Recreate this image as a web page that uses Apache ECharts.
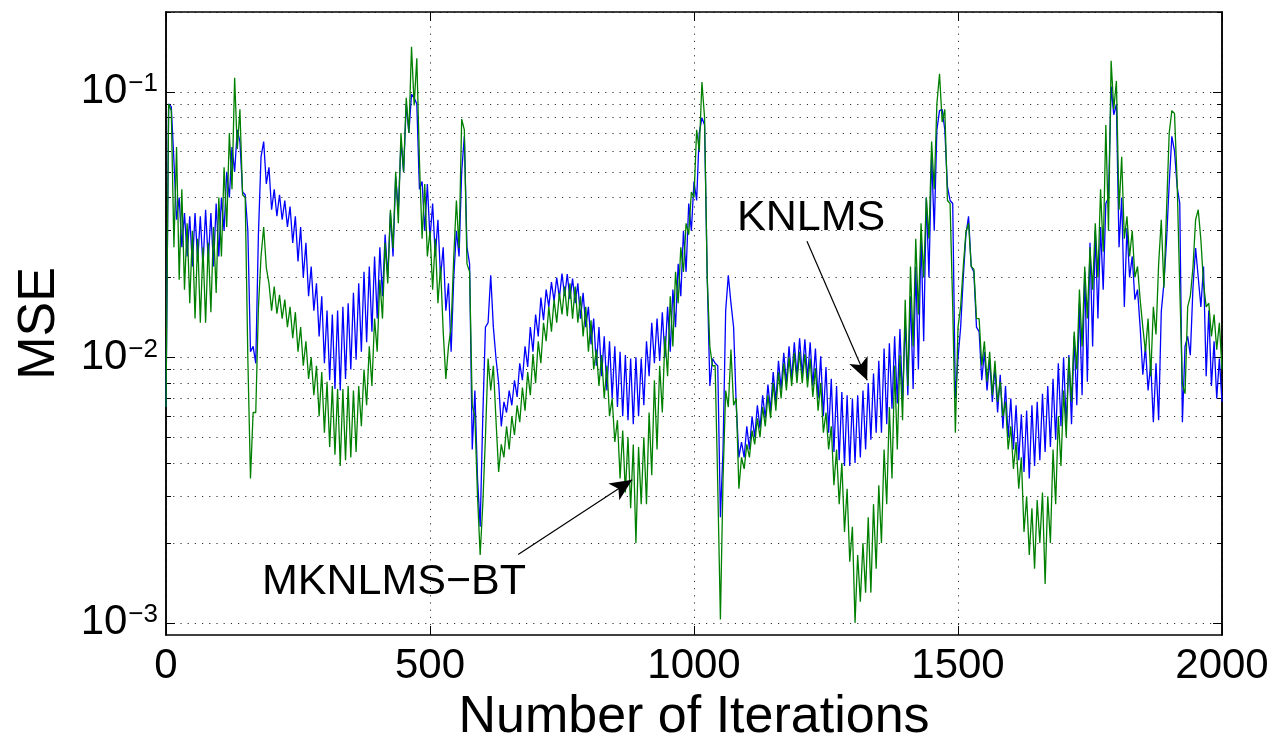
<!DOCTYPE html>
<html><head><meta charset="utf-8">
<script src="https://cdn.jsdelivr.net/npm/echarts@6/dist/echarts.min.js"></script>
<style>html,body{margin:0;padding:0;background:#fff}#c{width:1274px;height:736px}</style>
</head><body><div id="c"></div>
<script>
// one sample every STEP iterations
const STEP = 5;
const knlms = [
0.0065,0.09,0.088,0.055,0.033,0.04,0.026,0.035,0.024,0.034,
0.022,0.035,0.023,0.034,0.022,0.036,0.023,0.035,0.022,0.038,
0.024,0.04,0.03,0.05,0.04,0.062,0.05,0.072,0.065,0.042,
0.041,0.03,0.0105,0.011,0.0095,0.029,0.057,0.065,0.045,0.052,
0.036,0.043,0.034,0.041,0.033,0.039,0.031,0.037,0.027,0.034,
0.023,0.031,0.02,0.027,0.017,0.022,0.015,0.019,0.012,0.017,
0.0095,0.015,0.0082,0.0145,0.0076,0.015,0.0075,0.0155,0.0083,0.016,
0.009,0.0175,0.0098,0.019,0.0105,0.021,0.0114,0.022,0.0125,0.024,
0.014,0.026,0.017,0.029,0.02,0.035,0.024,0.048,0.036,0.065,
0.05,0.09,0.07,0.098,0.095,0.09,0.043,0.046,0.03,0.045,
0.028,0.038,0.024,0.033,0.02,0.026,0.015,0.019,0.0105,0.02,
0.03,0.024,0.05,0.068,0.026,0.0225,0.0045,0.0075,0.0035,0.0023,
0.006,0.013,0.0135,0.0204,0.013,0.0099,0.008,0.0055,0.0068,0.0062,
0.0075,0.0066,0.0082,0.0071,0.0095,0.0082,0.011,0.0092,0.013,0.0105,
0.0145,0.012,0.0168,0.0138,0.018,0.0155,0.0192,0.0163,0.02,0.0168,
0.0207,0.017,0.0206,0.0166,0.0198,0.016,0.019,0.014,0.0175,0.013,
0.0155,0.0112,0.014,0.0093,0.013,0.0085,0.012,0.0075,0.0115,0.007,
0.011,0.0065,0.0105,0.006,0.0102,0.0058,0.0099,0.0056,0.01,0.006,
0.0099,0.0066,0.0115,0.0085,0.0135,0.0095,0.014,0.0097,0.0148,0.01,
0.0155,0.0105,0.018,0.013,0.0225,0.017,0.03,0.021,0.038,0.03,
0.046,0.039,0.07,0.08,0.075,0.0204,0.0078,0.0099,0.0095,0.0093,
0.0025,0.0045,0.015,0.0204,0.016,0.013,0.0066,0.0042,0.0048,0.0042,
0.0055,0.0045,0.006,0.005,0.0066,0.0054,0.0072,0.0059,0.0079,0.0063,
0.0088,0.0068,0.0097,0.0076,0.0104,0.008,0.011,0.0083,0.0114,0.0085,
0.0118,0.0086,0.0117,0.0083,0.0114,0.0078,0.0108,0.007,0.0101,0.006,
0.0092,0.0052,0.0083,0.0044,0.0078,0.0041,0.0074,0.0039,0.0072,0.0039,
0.007,0.004,0.0072,0.0042,0.0075,0.0045,0.008,0.0049,0.0087,0.0052,
0.0097,0.0052,0.0108,0.0056,0.0113,0.0064,0.012,0.0067,0.0128,0.0069,
0.0138,0.0072,0.017,0.0076,0.022,0.009,0.029,0.0115,0.04,0.02,
0.058,0.03,0.072,0.085,0.086,0.072,0.044,0.039,0.038,0.007,
0.0099,0.013,0.02,0.029,0.034,0.022,0.021,0.013,0.0125,0.0082,
0.0105,0.0075,0.0098,0.0068,0.0092,0.0062,0.0086,0.0054,0.0078,0.005,
0.007,0.0045,0.0066,0.0041,0.0061,0.0037,0.0063,0.0035,0.0066,0.0039,
0.0068,0.0041,0.0073,0.0044,0.0078,0.0046,0.0083,0.0049,0.0095,0.0055,
0.01,0.0055,0.0102,0.0056,0.012,0.0066,0.016,0.0072,0.021,0.0081,
0.027,0.011,0.03,0.014,0.031,0.018,0.038,0.04,0.105,0.082,
0.09,0.026,0.04,0.0155,0.0307,0.02,0.024,0.0165,0.018,0.013,
0.0086,0.011,0.0075,0.0095,0.0057,0.0095,0.0058,0.0149,0.019,0.0277,
0.045,0.068,0.06,0.044,0.038,0.0057,0.011,0.012,0.0102,0.0183,
0.0258,0.02,0.0155,0.022,0.0085,0.015,0.0078,0.0115,0.007,0.0099,
0.0068
];
const mknlmsBT = [
0.0065,0.09,0.085,0.026,0.062,0.0196,0.043,0.018,0.032,0.016,
0.03,0.014,0.028,0.0135,0.026,0.0135,0.027,0.0148,0.031,0.0175,
0.04,0.024,0.052,0.031,0.07,0.043,0.113,0.061,0.086,0.041,
0.04,0.0099,0.0035,0.0062,0.0062,0.0154,0.024,0.031,0.0218,0.019,
0.015,0.0185,0.0146,0.0172,0.014,0.0165,0.013,0.0155,0.0118,0.0148,
0.0105,0.013,0.0093,0.0115,0.0083,0.01,0.0072,0.0093,0.006,0.0088,
0.0052,0.0081,0.0046,0.0078,0.0043,0.0076,0.0039,0.0076,0.0041,0.0078,
0.0042,0.0075,0.0044,0.0078,0.0055,0.009,0.0066,0.011,0.0078,0.014,
0.0105,0.0196,0.014,0.027,0.019,0.036,0.0258,0.05,0.032,0.07,
0.05,0.095,0.07,0.148,0.089,0.134,0.055,0.028,0.045,0.024,
0.03,0.018,0.028,0.016,0.022,0.0125,0.0083,0.011,0.013,0.024,
0.039,0.0258,0.079,0.072,0.0225,0.021,0.0066,0.006,0.003,0.0018,
0.0028,0.005,0.0099,0.0075,0.0093,0.0058,0.0037,0.0047,0.0042,0.0055,
0.0045,0.006,0.0051,0.0066,0.0057,0.0077,0.0063,0.0088,0.0072,0.0103,
0.008,0.0115,0.0095,0.0135,0.0115,0.0155,0.0125,0.0165,0.0135,0.0175,
0.0145,0.0185,0.0143,0.019,0.014,0.0185,0.0135,0.017,0.012,0.0155,
0.0105,0.0138,0.009,0.0107,0.0078,0.0102,0.007,0.0093,0.006,0.007,
0.0048,0.0058,0.0035,0.0053,0.0031,0.005,0.0027,0.0047,0.002,0.0046,
0.0028,0.005,0.0028,0.0062,0.0036,0.0082,0.0045,0.0093,0.0062,0.012,
0.0085,0.017,0.011,0.021,0.016,0.026,0.021,0.032,0.029,0.042,
0.04,0.072,0.06,0.109,0.08,0.02,0.011,0.0093,0.0093,0.0033,
0.00103,0.0035,0.0075,0.0065,0.0107,0.0066,0.007,0.0032,0.0042,0.0038,
0.0047,0.0042,0.0053,0.0047,0.0059,0.005,0.0065,0.0055,0.0072,0.0059,
0.008,0.0063,0.0088,0.007,0.0095,0.0075,0.01,0.0078,0.0104,0.008,
0.0105,0.008,0.0103,0.0077,0.0099,0.0071,0.0091,0.0063,0.008,0.0052,
0.0062,0.0045,0.0055,0.0033,0.0045,0.0028,0.004,0.0022,0.0032,0.0017,
0.0023,0.001,0.0018,0.0012,0.002,0.0013,0.0025,0.0013,0.0028,0.0016,
0.0033,0.002,0.0045,0.0028,0.0065,0.0035,0.0093,0.0045,0.0102,0.0058,
0.0165,0.0078,0.022,0.011,0.028,0.0145,0.032,0.02,0.04,0.028,
0.065,0.043,0.09,0.117,0.077,0.086,0.039,0.038,0.0155,0.0052,
0.013,0.0155,0.022,0.0296,0.032,0.022,0.0215,0.014,0.014,0.0093,
0.0115,0.0081,0.0105,0.0072,0.0097,0.0068,0.0081,0.006,0.0068,0.0045,
0.0055,0.0038,0.0048,0.0032,0.0042,0.0022,0.003,0.0018,0.0027,0.0016,
0.0029,0.002,0.0031,0.0014,0.003,0.002,0.0045,0.0028,0.006,0.0039,
0.0075,0.005,0.01,0.0068,0.0125,0.009,0.018,0.011,0.022,0.014,
0.026,0.018,0.032,0.02,0.043,0.025,0.075,0.03,0.131,0.086,
0.11,0.036,0.057,0.028,0.034,0.024,0.03,0.02,0.022,0.0165,
0.013,0.0105,0.014,0.0085,0.0155,0.0122,0.0225,0.033,0.0183,0.036,
0.07,0.085,0.083,0.046,0.0183,0.0079,0.0073,0.0155,0.017,0.0218,
0.033,0.036,0.0277,0.019,0.0155,0.016,0.012,0.0145,0.0107,0.0135,
0.009
];
const xTickValues = [0, 500, 1000, 1500, 2000];
const yMajorTicks = [0.001, 0.01, 0.1];
const yAllTicks = [0.001,0.002,0.003,0.004,0.005,0.006,0.007,0.008,0.009,
                   0.01,0.02,0.03,0.04,0.05,0.06,0.07,0.08,0.09,0.1,0.2];
const annotations = [
  {text: 'KNLMS', from: [1214, 0.0274], to: [1328, 0.0082]},
  {text: 'MKNLMS\u2212BT', from: [667, 0.00181], to: [883, 0.00346]}
];

const FONT = '"Liberation Sans", Arial, Helvetica, sans-serif';
const toPairs = arr => arr.map((v, i) => [i * STEP, v]);

function yAxisDef(position, ticks, tickLen, withLabels, withSplit) {
  return {
    type: 'log', logBase: 10, min: 0.0009, max: 0.2, position: position,
    axisLine: {show: true, lineStyle: {color: '#000', width: 1.5}},
    axisTick: {show: true, inside: true, length: tickLen, customValues: ticks,
               lineStyle: {color: '#000', width: 1}},
    axisLabel: withLabels ? {
      show: true, customValues: yMajorTicks, margin: 8,
      lineHeight: 54,
      formatter: v => '{b|10}{s|\u2212' + Math.round(-Math.log10(v)) + '}',
      rich: {
        b: {fontSize: 42, lineHeight: 42, fontFamily: FONT, color: '#000', verticalAlign: 'bottom'},
        s: {fontSize: 26, lineHeight: 26, fontFamily: FONT, color: '#000', verticalAlign: 'top', padding: [0, 0, 0, 1]}
      }
    } : {show: false},
    splitLine: withSplit ? {show: true, lineStyle: {color: '#333', width: 1, type: [1.2, 6]}} : {show: false},
    minorTick: {show: false}, minorSplitLine: {show: false}
  };
}

const chart = echarts.init(document.getElementById('c'), null, {renderer: 'canvas'});
chart.setOption({
  animation: false,
  backgroundColor: '#fff',
  grid: {left: 166, right: 52, top: 12, bottom: 101, containLabel: false, outerBoundsMode: 'none'},
  xAxis: [
    {type: 'value', min: 0, max: 2000, interval: 500, position: 'bottom',
     name: 'Number of Iterations', nameLocation: 'middle', nameGap: 50,
     nameTextStyle: {fontSize: 52, fontFamily: FONT, color: '#000'},
     axisLine: {show: true, lineStyle: {color: '#000', width: 1.5}},
     axisTick: {show: true, inside: true, length: 9, lineStyle: {color: '#000'}},
     axisLabel: {show: true, margin: 10, fontSize: 42, fontFamily: FONT, color: '#000',
                 customValues: xTickValues, formatter: v => String(v)},
     splitLine: {show: true, lineStyle: {color: '#333', width: 1, type: [1.2, 6]}}},
    {type: 'value', min: 0, max: 2000, interval: 500, position: 'top',
     axisLine: {show: true, lineStyle: {color: '#000', width: 1.5}},
     axisTick: {show: true, inside: true, length: 9, lineStyle: {color: '#000'}},
     axisLabel: {show: false}, splitLine: {show: false}}
  ],
  yAxis: [
    Object.assign(yAxisDef('left', yMajorTicks, 9, true, false),
      {name: 'MSE', nameLocation: 'middle', nameGap: 100,
       nameTextStyle: {fontSize: 52, fontFamily: FONT, color: '#000'}}),
    yAxisDef('left', yAllTicks, 5, false, true),
    yAxisDef('right', yMajorTicks, 9, false, false),
    yAxisDef('right', yAllTicks, 5, false, false)
  ],
  series: [
    {name: 'KNLMS', type: 'line', data: toPairs(knlms), showSymbol: false, symbol: 'none',
     lineStyle: {color: '#0000ff', width: 1.3}, itemStyle: {color: '#0000ff'}, z: 3},
    {name: 'MKNLMS-BT', type: 'line', data: toPairs(mknlmsBT), showSymbol: false, symbol: 'none',
     lineStyle: {color: '#008000', width: 1.3}, itemStyle: {color: '#008000'}, z: 4,
     markLine: {
       silent: true, symbol: ['none', 'arrow'], symbolSize: [15, 22],
       lineStyle: {color: '#000', width: 1.2, type: 'solid'},
       itemStyle: {color: '#000'},
       label: {show: false},
       data: annotations.map(a => [{coord: a.from}, {coord: a.to}])
     }}
  ],
  graphic: [
    {type: 'text', x: 737, y: 218, z: 10,
     style: {text: annotations[0].text, font: '43px ' + FONT, fill: '#000', align: 'left', verticalAlign: 'middle'}},
    {type: 'text', x: 262, y: 582, z: 10,
     style: {text: annotations[1].text, font: '43px ' + FONT, fill: '#000', align: 'left', verticalAlign: 'middle'}}
  ]
});
</script>
</body></html>
